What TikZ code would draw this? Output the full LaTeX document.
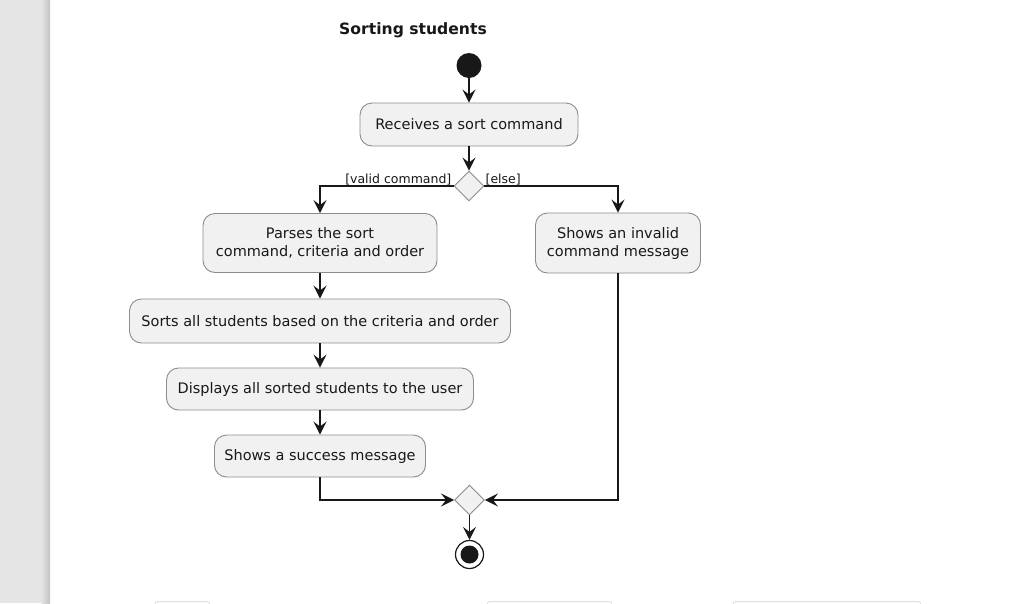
\documentclass[tikz,border=0pt]{standalone}
\usepackage{fontspec}
\setmainfont{DejaVu Sans}
\usetikzlibrary{arrows.meta,shapes.geometric}
\definecolor{umlfill}{HTML}{F1F1F1}
\definecolor{umlline}{HTML}{181818}
\definecolor{umlborder}{HTML}{8C8C8C}
\definecolor{sidebar}{HTML}{E5E5E5}
\tikzset{
  actbox/.style={rectangle, rounded corners=12pt, draw=umlborder, line width=0.9pt, fill=umlfill,
    align=center, inner sep=0pt, text=umlline, font=\fontsize{14.5}{18}\selectfont},
  branch/.style={diamond, draw=umlborder, line width=0.9pt, fill=umlfill,
    minimum width=30pt, minimum height=30pt, inner sep=0pt},
  flow/.style={draw=umlline, line width=1.3pt, -{Stealth[length=13pt,width=13pt,inset=5pt]}},
  guard/.style={inner sep=0pt, text=umlline, font=\fontsize{12.5}{14}\selectfont},
}
\begin{document}
\begin{tikzpicture}[x=1pt, y=-1pt]
\useasboundingbox (0,0) rectangle (1029,603);
\clip (0,0) rectangle (1029,603);
\fill[white] (0,0) rectangle (1029,603);
% side bar
\fill[sidebar] (0,0) rectangle (50,603);
\shade[left color=sidebar, right color=black!24] (41,0) rectangle (50,603);
% title
\node[font=\fontsize{15.6}{18}\selectfont\bfseries, text=umlline] (title) at (413,30.5) {Sorting students};
% start and first action
\node[circle, fill=umlline, minimum size=25pt, inner sep=0pt] (start) at (469,65.5) {};
\node[actbox, minimum width=218pt, minimum height=43pt] (recv) at (469,124.5) {Receives a sort command};
\node[branch] (dec) at (469,186) {};
\node[guard, anchor=base east] (valid) at ([xshift=-2pt, yshift=3pt]dec.west) {[valid command]};
\node[guard, anchor=base west] (else) at ([xshift=1pt, yshift=3pt]dec.east) {[else]};
% valid branch
\node[actbox, minimum width=234pt, minimum height=59pt] (parse) at (320,243) {Parses the sort\\command, criteria and order};
\node[actbox, minimum width=381pt, minimum height=44pt] (sortall) at (320,321) {Sorts all students based on the criteria and order};
\node[actbox, minimum width=307pt, minimum height=42pt] (display) at (320,389) {Displays all sorted students to the user};
\node[actbox, minimum width=211pt, minimum height=42pt] (success) at (320,456) {Shows a success message};
% else branch
\node[actbox, minimum width=165pt, minimum height=60pt] (invalid) at (618,243) {Shows an invalid\\command message};
% merge and stop
\node[branch] (merge) at (469.5,500) {};
\node[circle, draw=umlline, line width=1.2pt, fill=white, minimum size=28pt, inner sep=0pt] (stop) at (469.5,554.5) {};
\fill[umlline] (stop) circle (9pt);
% connectors
\draw[flow] (start) -- (recv);
\draw[flow] (recv) -- (dec);
\draw[flow] (dec.west) -| (parse);
\draw[flow] (dec.east) -| (invalid);
\draw[flow] (parse) -- (sortall);
\draw[flow] (sortall) -- (display);
\draw[flow] (display) -- (success);
\draw[flow] (success) |- (merge);
\draw[flow] (invalid) |- (merge);
\draw[flow] (merge) -- (stop);
% next diagrams peeking in at the bottom
\foreach \a/\b in {155/210, 487/612, 733/921}
  \draw[draw=black!12, line width=1pt, rounded corners=3pt] (\a,608) -- (\a,601.5) -- (\b,601.5) -- (\b,608);
\end{tikzpicture}
\end{document}
